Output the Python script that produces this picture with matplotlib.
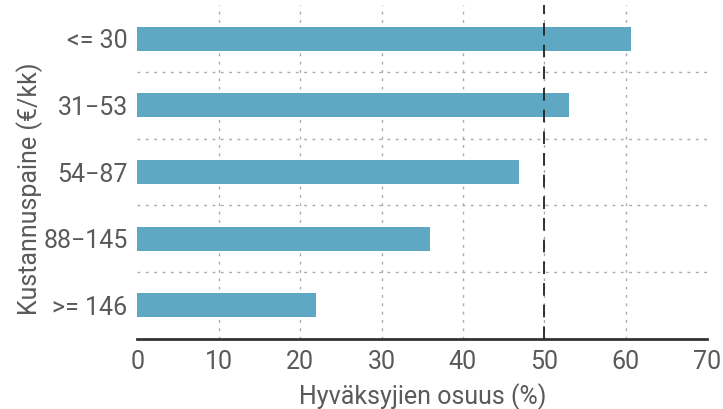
import matplotlib.pyplot as plt
import numpy as np

# data
categories = ["<= 30", "31−53", "54−87", "88−145", ">= 146"]
shares = [60.7, 53.0, 46.9, 35.9, 22.0]
x_ticks = [0, 10, 20, 30, 40, 50, 60, 70]
reference_line = 50

plt.rcParams['font.family'] = ['Roboto', 'DejaVu Sans']
text_color = '#5a5a5a'

fig = plt.figure(figsize=(7.23, 4.09), dpi=100)
ax = fig.add_axes([0.190, 0.172, 0.788, 0.8146])

y = np.arange(len(categories))
ax.barh(y, shares, height=0.36, color='#5fa8c4', zorder=3)
ax.axvline(reference_line, color='#222222', linestyle=(0, (7, 5)), linewidth=1.3, zorder=4)

ax.set_xlim(0, 70)
ax.set_ylim(len(categories) - 0.5, -0.5)
ax.set_xticks(x_ticks)
ax.set_yticks(y)
ax.set_yticklabels(categories)
ax.set_yticks(y[:-1] + 0.5, minor=True)

# grid: dotted, vertical at inner ticks, horizontal between categories
for v in x_ticks[1:-1]:
    ax.axvline(v, color='#aaaaaa', linestyle=(0, (2, 4)), linewidth=1, zorder=1)
ax.grid(axis='y', which='minor', color='#aaaaaa', linestyle=(0, (2, 4)), linewidth=1, zorder=1)

for side in ['top', 'right', 'left']:
    ax.spines[side].set_visible(False)
ax.spines['bottom'].set_color('#333333')
ax.spines['bottom'].set_linewidth(2)

ax.tick_params(axis='both', which='both', length=0, labelsize=18, labelcolor=text_color)
ax.tick_params(axis='x', pad=8)
ax.tick_params(axis='y', pad=7)

ax.set_xlabel("Hyväksyjien osuus (%)", fontsize=18, color=text_color, labelpad=7)
ax.set_ylabel("Kustannuspaine (€/kk)", fontsize=18, color=text_color)
ax.yaxis.set_label_coords(-0.165, 0.45)

fig.savefig("out.png", dpi=100)
